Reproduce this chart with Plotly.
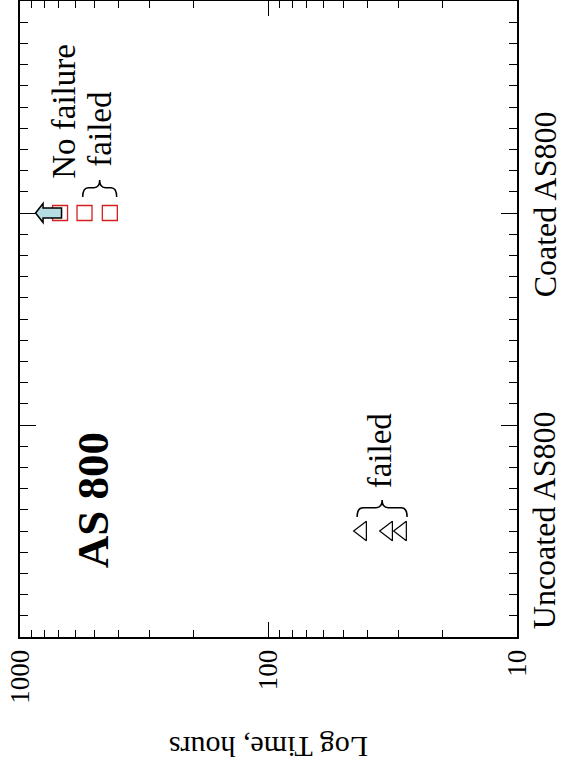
import math
import plotly.graph_objects as go

# ---------------- data ----------------
categories = ["Uncoated AS800", "Coated AS800"]
category_tick_pos = [1, 2]
category_label_pos = [0.55, 2.04]

uncoated_times = [42, 33, 29]          # hours (failed)
uncoated_pos = [0.5, 0.5, 0.5]

coated_times = [690, 550, 435]         # hours (first: no failure / runout, rest failed)
coated_pos = [2, 2, 2]

x_tick_vals = [10, 100, 1000]
x_tick_text = ["10", "100", "1000"]

FONT = "Liberation Serif, Times New Roman, serif"

fig = go.Figure()

fig.add_trace(go.Scatter(
    x=uncoated_times, y=uncoated_pos, mode="markers",
    marker=dict(symbol="triangle-left-open", size=17, color="black",
                line=dict(width=1.2, color="black")),
    showlegend=False, cliponaxis=False))

fig.add_trace(go.Scatter(
    x=coated_times, y=coated_pos, mode="markers",
    marker=dict(symbol="square-open", size=15, color="#d42020",
                line=dict(width=1.3, color="#d42020")),
    showlegend=False, cliponaxis=False))

minor_x = [m * 10 ** e for e in (1, 2) for m in range(2, 10)]

fig.update_xaxes(
    type="log", range=[3, 1],
    tickmode="array", tickvals=x_tick_vals, ticktext=x_tick_text,
    tickangle=-90, tickfont=dict(family=FONT, size=27, color="black"),
    ticks="inside", ticklen=15, tickwidth=1.2, tickcolor="black",
    minor=dict(tickmode="array", tickvals=minor_x, ticks="inside",
               ticklen=7, tickwidth=1, tickcolor="black", showgrid=False),
    showline=True, linewidth=2, linecolor="black", mirror="allticks",
    showgrid=False, zeroline=False, ticklabelstandoff=0, automargin=False,
)

fig.update_yaxes(
    range=[0, 3], side="right",
    tickmode="array", tickvals=category_tick_pos, showticklabels=False,
    ticks="inside", ticklen=16, tickwidth=1.2, tickcolor="black",
    minor=dict(tickmode="linear", tick0=0, dtick=0.1, ticks="inside",
               ticklen=8, tickwidth=1, tickcolor="black", showgrid=False),
    showline=True, linewidth=2, linecolor="black", mirror="allticks",
    showgrid=False, zeroline=False, automargin=False,
)

# category labels (rotated, right side)
for name, pos in zip(categories, category_label_pos):
    fig.add_annotation(
        text=name, xref="paper", yref="y", x=1.056, y=pos, showarrow=False,
        textangle=-90, xanchor="center", yanchor="middle",
        font=dict(family=FONT, size=32, color="black"))

# block arrow (runout / no failure) anchored at the first coated point
fig.add_shape(
    type="path", xref="x", yref="y",
    xsizemode="pixel", ysizemode="pixel",
    xanchor=coated_times[0], yanchor=coated_pos[0],
    path="M -24.5,0 L -17,9.5 L -17,5 L 1.5,5 L 1.5,-5 L -17,-5 L -17,-9.5 Z",
    line=dict(color="black", width=1.5), fillcolor="#b5dde3", layer="above")


def brace_path(dx, base, h, w):
    r = min(6, w / 3)
    m = base + h * 0.55
    t = base + h
    return (f"M {dx - w},{base} Q {dx - w},{m} {dx - w + r},{m} "
            f"L {dx - r},{m} Q {dx},{m} {dx},{t} "
            f"Q {dx},{m} {dx + r},{m} L {dx + w - r},{m} Q {dx + w},{m} {dx + w},{base}")


def gmean(v):
    return math.exp(sum(math.log(a) for a in v) / len(v))


# brace over the failed coated points
fig.add_shape(
    type="path", xref="x", yref="y", xsizemode="pixel", ysizemode="pixel",
    xanchor=gmean(coated_times[1:]), yanchor=coated_pos[1],
    path=brace_path(2.5, 16, 17, 17), line=dict(color="black", width=1.5))

# brace over the uncoated points
fig.add_shape(
    type="path", xref="x", yref="y", xsizemode="pixel", ysizemode="pixel",
    xanchor=gmean(uncoated_times), yanchor=uncoated_pos[0],
    path=brace_path(-2, 14, 17, 25), line=dict(color="black", width=1.5))


def ann(text, x, y, size, bold=False, angle=-90):
    fig.add_annotation(
        text=f"<b>{text}</b>" if bold else text,
        x=x, y=y, xref="x", yref="y", showarrow=False, textangle=angle,
        font=dict(family=FONT, size=size, color="black"))


ann("AS 800", 2.706, 0.645, 45, bold=True)
ann("No failure", 2.823, 2.482, 33)
ann("failed", 2.678, 2.398, 33)
ann("failed", 1.551, 0.881, 33)

fig.add_annotation(
    text="Log Time, hours", xref="paper", yref="paper", x=0.5, y=-0.174,
    showarrow=False, textangle=180, xanchor="center", yanchor="middle",
    font=dict(family=FONT, size=30, color="black"))

fig.update_layout(
    width=562, height=782,
    margin=dict(l=20, r=45, t=1, b=145, autoexpand=False),
    paper_bgcolor="white", plot_bgcolor="white",
    showlegend=False,
)

fig.write_html(
    "out.html",
    config={"displayModeBar": False},
    post_script="document.body.style.margin='0';document.body.style.overflow='hidden';",
)
